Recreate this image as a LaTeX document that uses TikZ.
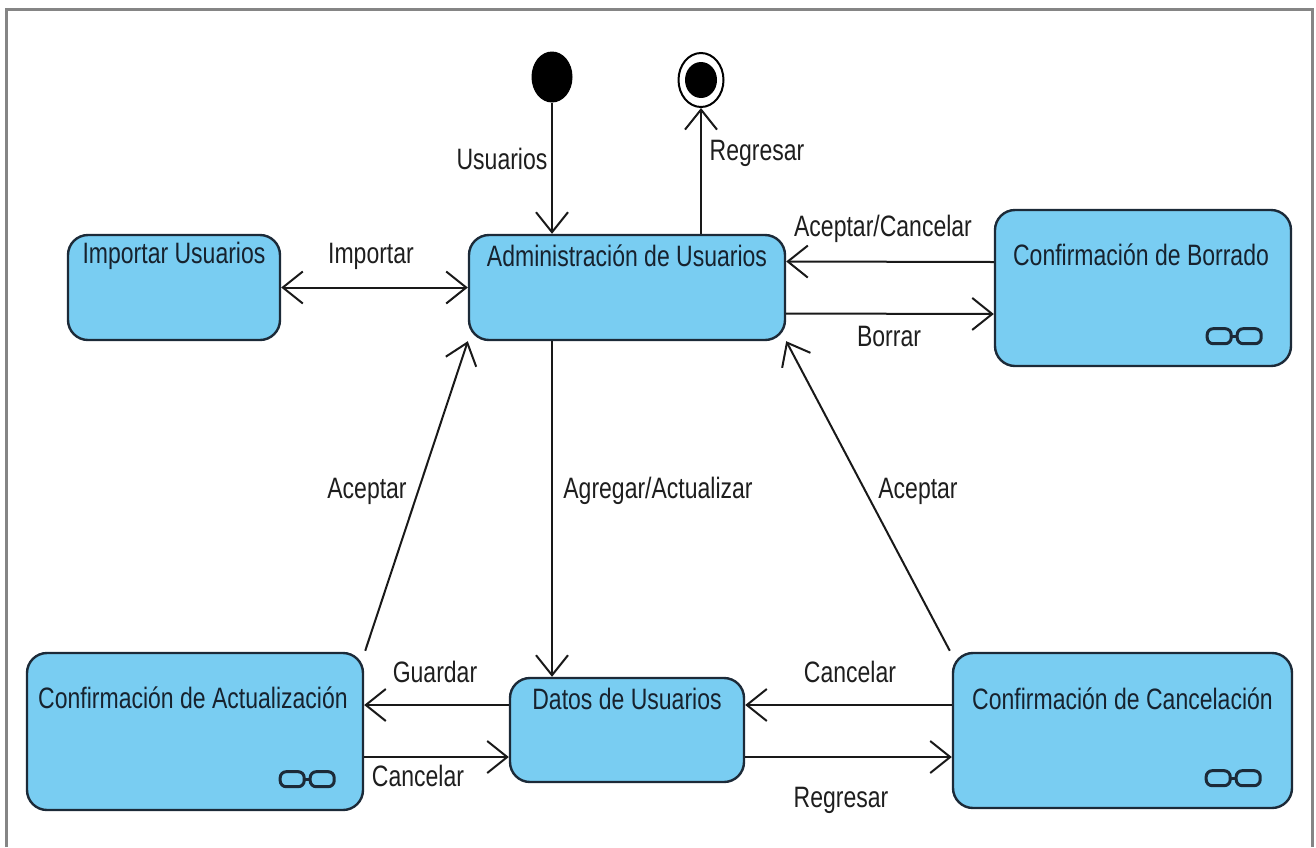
\documentclass[tikz,border=0pt]{standalone}
\usepackage{fontspec}
\newfontfamily\diafont[FakeStretch=0.78]{Liberation Sans}
\usetikzlibrary{arrows.meta,calc,shapes.geometric}

\definecolor{statefill}{HTML}{79CDF2}
\definecolor{stateline}{HTML}{1C2A38}
\definecolor{headtext}{HTML}{17222E}
\definecolor{labeltext}{HTML}{1E1E1E}
\definecolor{framegray}{HTML}{858585}

\tikzset{
  statebox/.style={draw=stateline, fill=statefill, line width=2.4pt,
    rounded corners=20pt, inner sep=0pt},
  headtext/.style={font=\diafont\fontsize{29.5}{30}\selectfont, text=headtext,
    inner sep=0pt},
  edgelabel/.style={font=\diafont\fontsize{29.5}{30}\selectfont, text=labeltext,
    inner sep=0pt},
  trans/.style={draw=black!90, line width=2pt,
    -{Straight Barb[length=20pt,width=32pt,line width=2pt]}},
  bitrans/.style={draw=black!90, line width=2pt,
    {Straight Barb[length=20pt,width=32pt,line width=2pt]}-{Straight Barb[length=20pt,width=32pt,line width=2pt]}},
  glasses/.pic={
    \draw[stateline, line width=3pt, rounded corners=6pt]
      (-27,-7.5) rectangle (-3,7.5)
      (3,-7.5) rectangle (27,7.5);
    \draw[stateline, line width=3pt] (-3,0) -- (3,0);
  }
}

\begin{document}
\begin{tikzpicture}[x=1pt,y=-1pt]
\useasboundingbox (0,0) rectangle (1316,847);

% outer frame (open at the bottom)
\draw[framegray, line width=3pt] (6,847) -- (6,9) -- (1312,9) -- (1312,847);

% pseudo states
\node[fill=black, ellipse, minimum width=40pt, minimum height=50pt, inner sep=0pt,
      draw=black, line width=1pt] (init) at (552,77) {};
\node[draw=black, fill=white, ellipse, minimum width=45pt, minimum height=54pt,
      inner sep=0pt, line width=2pt] (fin) at (701,80) {};
\node[fill=black, ellipse, minimum width=32pt, minimum height=36pt, inner sep=0pt]
      (finin) at (fin.center) {};

% states
\node[statebox, minimum width=212pt, minimum height=105pt] (imp) at (174,287.5) {};
\node[statebox, minimum width=316pt, minimum height=105pt] (admin) at (627,287.5) {};
\node[statebox, minimum width=296pt, minimum height=156pt] (borr) at (1143,288) {};
\node[statebox, minimum width=336pt, minimum height=157pt] (act) at (195,731.5) {};
\node[statebox, minimum width=234pt, minimum height=104pt] (datos) at (627,730) {};
\node[statebox, minimum width=339pt, minimum height=155pt] (canc) at (1122.5,730.5) {};

% state names
\node[headtext] at ([yshift=-22pt]imp.north) {Importar Usuarios};
\node[headtext] at ([yshift=-22pt]admin.north) {Administración de Usuarios};
\node[headtext] at ([yshift=-46pt,xshift=-2pt]borr.north) {Confirmación de Borrado};
\node[headtext] at ([yshift=-46pt,xshift=-2pt]act.north) {Confirmación de Actualización};
\node[headtext] at ([yshift=-22pt]datos.north) {Datos de Usuarios};
\node[headtext] at ([yshift=-47pt]canc.north) {Confirmación de Cancelación};

% composite-state markers
\pic at ([shift={(-58,-31)}]borr.south east) {glasses};
\pic at ([shift={(-57,-32)}]act.south east) {glasses};
\pic at ([shift={(-60,-31)}]canc.south east) {glasses};

% transitions
\draw[trans] (init.south) -- (init |- admin.north);
\draw[trans] (fin |- admin.north) -- (fin.south);
\draw[bitrans] (imp.east) -- (admin.west);
\draw[trans] ([yshift=26pt]borr.west) -- ([yshift=26pt]admin.east);
\draw[trans] ([yshift=-26pt]admin.east) -- ([yshift=-26pt]borr.west);
\draw[trans] ([xshift=-75pt]admin.south) -- ([xshift=-75pt]datos.north);
\draw[trans] ([xshift=1pt,yshift=1pt]act.north east) -- (admin.south west);
\draw[trans] ([xshift=-2pt,yshift=1pt]canc.north west) -- (admin.south east);
\draw[trans] ([yshift=25pt]datos.west) -- ([yshift=25pt]datos.west -| act.east);
\draw[trans] ([yshift=-27pt]datos.west -| act.east) -- ([yshift=-27pt]datos.west);
\draw[trans] ([yshift=25pt]datos.east -| canc.west) -- ([yshift=25pt]datos.east);
\draw[trans] ([yshift=-27pt]datos.east) -- ([yshift=-27pt]datos.east -| canc.west);

% transition labels
\node[edgelabel] (lUsu) at (502,159) {Usuarios};
\node[edgelabel] (lReg) at (757,153) {Regresar};
\node[edgelabel] (lImp) at (371,256) {Importar};
\node[edgelabel] (lAcC) at (883,229) {Aceptar/Cancelar};
\node[edgelabel] (lBor) at (889,336) {Borrar};
\node[edgelabel] (lAgr) at (658,491) {Agregar/Actualizar};
\node[edgelabel] (lAc1) at (367,491) {Aceptar};
\node[edgelabel] (lAc2) at (918,491) {Aceptar};
\node[edgelabel] (lGua) at (435,672) {Guardar};
\node[edgelabel] (lCa1) at (418,776) {Cancelar};
\node[edgelabel] (lCa2) at (850,672) {Cancelar};
\node[edgelabel] (lReg2) at (841,800) {Regresar};
\end{tikzpicture}
\end{document}
